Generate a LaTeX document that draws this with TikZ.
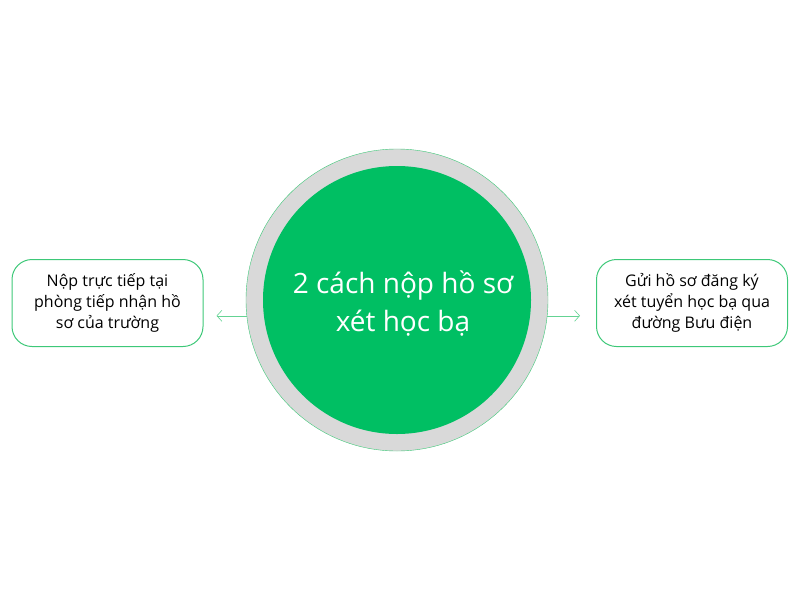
\documentclass[tikz,border=0pt]{standalone}
\usepackage{fontspec}
\setmainfont{Open Sans}
\usetikzlibrary{positioning,arrows.meta}
\definecolor{hbgreen}{HTML}{00BF63}
\definecolor{hbline}{HTML}{3DC878}
\definecolor{hbgray}{HTML}{D9D9D9}
\begin{document}
\begin{tikzpicture}[x=1pt,y=-1pt,
  sidebox/.style={draw=hbline,line width=1pt,rounded corners=20pt,minimum width=191pt,minimum height=87pt,align=center,font=\fontsize{16}{21}\selectfont},
  link/.style={draw=hbline!80,line width=0.6pt,-{Straight Barb[length=5pt,width=11pt]}}]
\useasboundingbox (0,0) rectangle (800,600);
\pgfmathsetmacro{\ro}{302}   %outer ring
\pgfmathsetmacro{\ri}{268}   %inner disc
%centre circle
\node[circle,draw=hbline,fill=hbgray,minimum size=\ro pt,inner sep=0pt] (ring) at (397,300) {};
\node[circle,fill=hbgreen,minimum size=\ri pt,inner sep=0pt] (core) at (397,300) {};
\node[text=white,align=center,font=\fontsize{28}{38}\selectfont] (title) at (403,304) {2 cách nộp hồ sơ\\xét học bạ};
%side boxes
\node[sidebox] (direct) at (107.5,303) {Nộp trực tiếp tại\\phòng tiếp nhận hồ\\sơ của trường};
\node[sidebox] (post) at (692,303) {Gửi hồ sơ đăng ký\\xét tuyển học bạ qua\\đường Bưu điện};
%arrows
\draw[link,shorten >=13pt] (ring.186) -- (ring.186 -| direct.east);
\draw[link,shorten >=16pt] (ring.-6) -- (ring.-6 -| post.west);
\end{tikzpicture}
\end{document}
